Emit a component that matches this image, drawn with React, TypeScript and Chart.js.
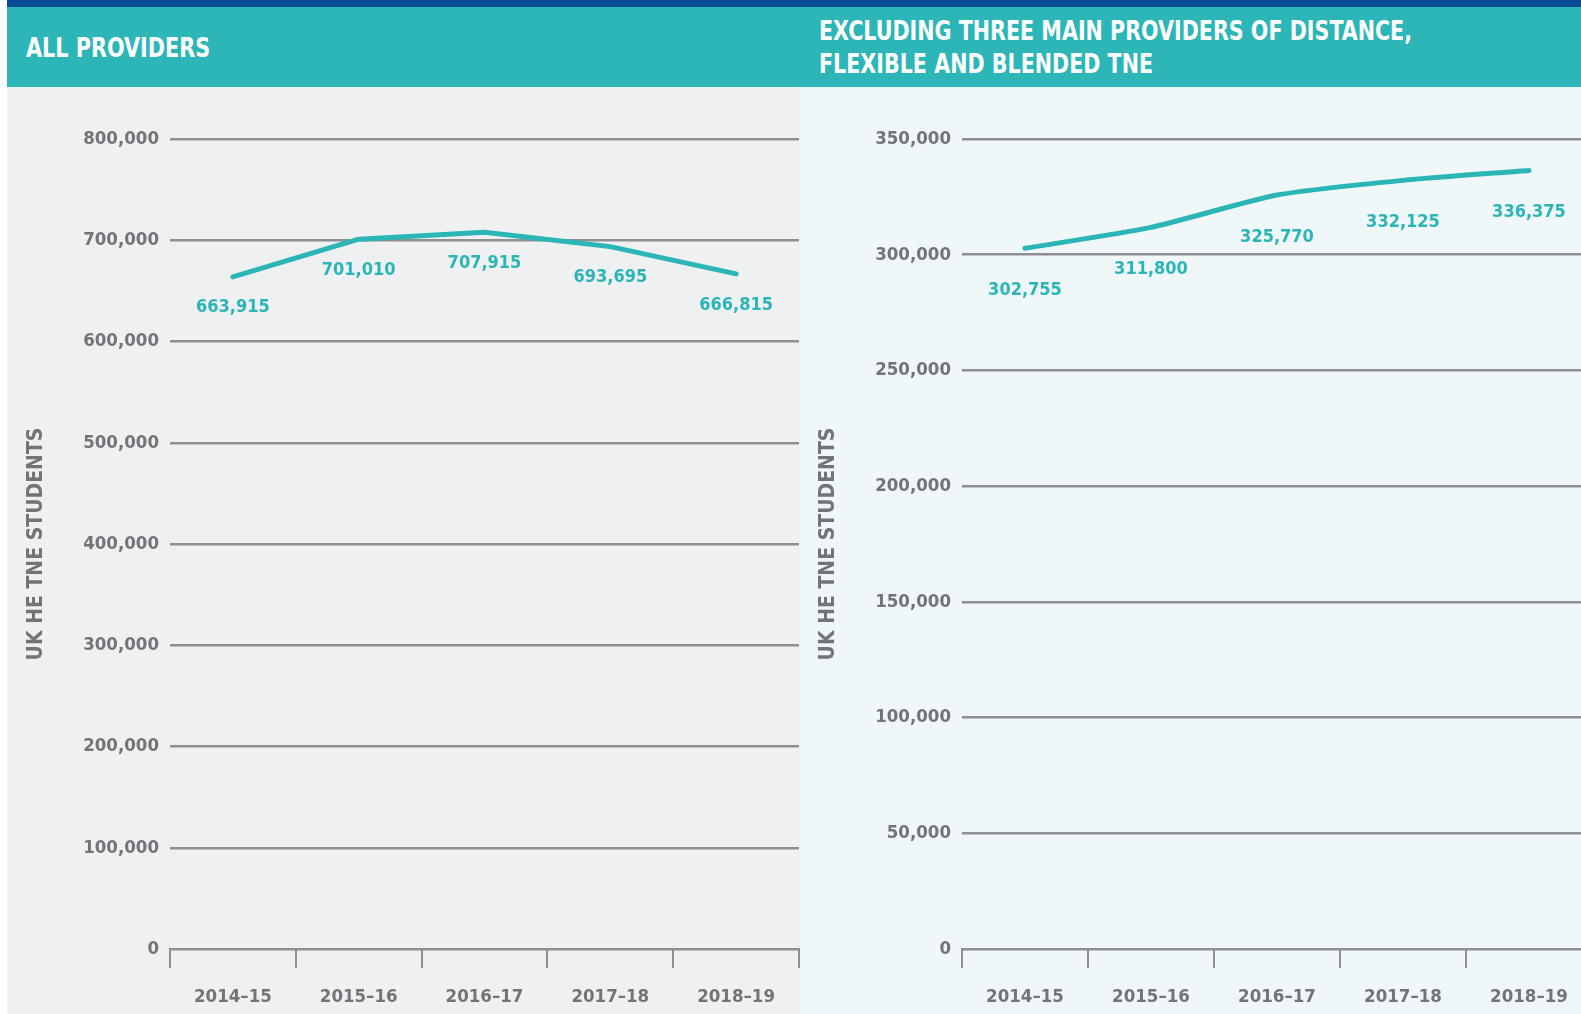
import React, { useEffect, useRef } from "react";
import { Chart, registerables } from "chart.js";

Chart.register(...registerables);

const categories = ["2014–15", "2015–16", "2016–17", "2017–18", "2018–19"];
const allProvidersValues = [663915, 701010, 707915, 693695, 666815];
const excludingValues = [302755, 311800, 325770, 332125, 336375];
const allProvidersMax = 800000;
const allProvidersStep = 100000;
const excludingMax = 350000;
const excludingStep = 50000;
const leftTitle = "ALL PROVIDERS";
const rightTitleLines = ["EXCLUDING THREE MAIN PROVIDERS OF DISTANCE,", "FLEXIBLE AND BLENDED TNE"];
const yAxisTitle = "UK HE TNE STUDENTS";

const FONT = '"DejaVu Sans Condensed", "Liberation Sans Narrow", sans-serif';
const TEAL = "#2bb5b7";
const GREY_TEXT = "#727478";
const GRID = "#8e8f91";

const fmt = (v: number) => v.toLocaleString("en-US");

type Props = {
  values: number[];
  max: number;
  step: number;
  labelOffset: number;
  tension: number;
  width: number;
  height: number;
  padRight: number;
};

function LineChart({ values, max, step, labelOffset, tension, width, height, padRight }: Props) {
  const ref = useRef<HTMLCanvasElement | null>(null);
  useEffect(() => {
    if (!ref.current) return;
    const labelPlugin = {
      id: "valueLabels",
      afterDatasetsDraw(chart: any) {
        const ctx = chart.ctx;
        const meta = chart.getDatasetMeta(0);
        ctx.save();
        ctx.fillStyle = TEAL;
        ctx.font = `bold 18px ${FONT}`;
        ctx.textAlign = "center";
        ctx.textBaseline = "middle";
        meta.data.forEach((pt: any, i: number) => {
          ctx.fillText(fmt(values[i]), pt.x, pt.y + labelOffset);
        });
        ctx.restore();
      },
    };
    const chart = new Chart(ref.current, {
      type: "line",
      data: {
        labels: categories,
        datasets: [
          {
            data: values,
            borderColor: TEAL,
            borderWidth: 5,
            pointRadius: 0,
            tension,
            borderCapStyle: "round",
            borderJoinStyle: "round",
          },
        ],
      },
      options: {
        animation: false,
        responsive: false,
        devicePixelRatio: 1,
        layout: { padding: { top: 52, right: padRight, bottom: 0, left: 0 } },
        plugins: { legend: { display: false }, tooltip: { enabled: false } },
        scales: {
          x: {
            offset: true,
            grid: {
              offset: true,
              drawOnChartArea: false,
              drawTicks: true,
              tickLength: 19,
              color: GRID,
              lineWidth: 2,
            },
            border: { display: true, color: GRID, width: 2 },
            ticks: {
              padding: 18,
              color: GREY_TEXT,
              font: { family: FONT, size: 18.5, weight: "bold" },
            },
            afterFit: (s: any) => {
              s.height = 65;
            },
          },
          y: {
            min: 0,
            max,
            grid: { color: GRID, lineWidth: 2.5, drawTicks: false },
            border: { display: false },
            ticks: {
              stepSize: step,
              padding: 11,
              color: GREY_TEXT,
              font: { family: FONT, size: 18.5, weight: "bold" },
              callback: (v: any) => fmt(Number(v)),
            },
            title: {
              display: true,
              text: yAxisTitle,
              color: GREY_TEXT,
              font: { family: FONT, size: 21, weight: "bold" },
              padding: { top: 17, bottom: 0 },
            },
            afterFit: (s: any) => {
              s.width = 163;
            },
          },
        },
      },
      plugins: [labelPlugin],
    } as any);
    return () => chart.destroy();
  }, [values, max, step, labelOffset, tension]);
  return <canvas ref={ref} width={width} height={height} style={{ display: "block" }} />;
}

export default function App() {
  const abs = (s: React.CSSProperties): React.CSSProperties => ({ position: "absolute", ...s });
  const headText: React.CSSProperties = {
    color: "#ffffff",
    fontWeight: "bold",
    fontSize: 27,
    lineHeight: "33px",
    whiteSpace: "nowrap",
    transformOrigin: "left center",
  };
  return (
    <div
      style={{
        position: "fixed",
        left: 0,
        top: 0,
        width: 1581,
        height: 1014,
        overflow: "hidden",
        background: "#ffffff",
        fontFamily: FONT,
      }}
    >
      <div style={abs({ left: 7, top: 0, width: 1574, height: 7, background: "#0b4a95" })} />
      <div style={abs({ left: 7, top: 7, width: 1574, height: 80, background: "#2cb6b8" })} />
      <div style={abs({ left: 7, top: 87, width: 793, height: 927, background: "#eef0f2" })} />
      <div style={abs({ left: 800, top: 87, width: 781, height: 927, background: "#eff7f9" })} />
      <div style={abs({ ...headText, left: 26, top: 31, transform: "scaleX(0.855)" })}>{leftTitle}</div>
      <div style={abs({ ...headText, left: 819, top: 14, transform: "scaleX(0.85)" })}>
        {rightTitleLines.map((l, i) => (
          <div key={i}>{l}</div>
        ))}
      </div>
      <div style={abs({ left: 7, top: 87 })}>
        <LineChart
          values={allProvidersValues}
          max={allProvidersMax}
          step={allProvidersStep}
          labelOffset={31}
          tension={0}
          width={796}
          height={927}
          padRight={4}
        />
      </div>
      <div style={abs({ left: 799, top: 87 })}>
        <LineChart
          values={excludingValues}
          max={excludingMax}
          step={excludingStep}
          labelOffset={42}
          tension={0.2}
          width={800}
          height={927}
          padRight={7}
        />
      </div>
    </div>
  );
}
